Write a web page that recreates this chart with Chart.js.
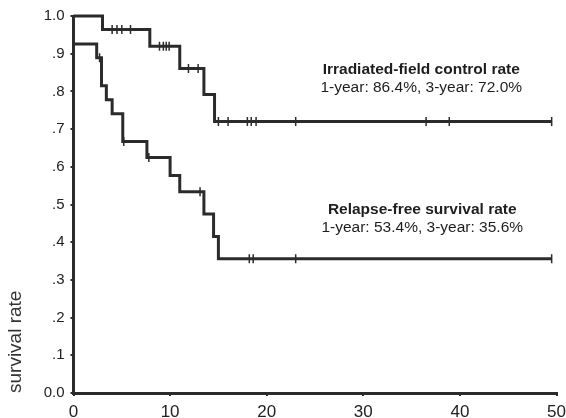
<!DOCTYPE html>
<html>
<head>
<meta charset="utf-8">
<script src="https://cdn.jsdelivr.net/npm/chart.js@4/dist/chart.umd.min.js"></script>
<style>
  html, body { margin: 0; padding: 0; background: #fff; }
  #wrap { width: 566px; height: 418px; }
</style>
</head>
<body>
<div id="wrap"><canvas id="myChart" width="566" height="418"></canvas></div>
<script>
// Irradiated-field control (months, rate)
const controlTimes = [0, 3.0, 7.9, 11.0, 13.5, 14.6, 49.5];
const controlRates = [1.0, 0.964, 0.920, 0.861, 0.792, 0.720, 0.720];
const controlCensored = [4.0, 4.5, 5.0, 5.9, 8.9, 9.3, 9.6, 9.9, 11.9, 12.9, 15.0, 16.0, 18.0, 18.4, 18.9, 23.0, 36.5, 38.9, 49.5];

// Relapse-free survival
const relapseTimes = [0, 2.4, 2.9, 3.4, 4.0, 5.1, 7.6, 10.0, 11.0, 13.5, 14.5, 15.0, 49.5];
const relapseRates = [0.926, 0.889, 0.815, 0.778, 0.741, 0.667, 0.625, 0.577, 0.534, 0.475, 0.415, 0.356, 0.356];
const relapseCensored = [2.7, 5.2, 7.8, 13.1, 18.2, 18.6, 23.0, 49.5];

const xTicks = [0, 10, 20, 30, 40, 50];
const yTicks = [0, 0.1, 0.2, 0.3, 0.4, 0.5, 0.6, 0.7, 0.8, 0.9, 1.0];

const notes = [
    {title: 'Irradiated-field control rate', sub: '1-year: 86.4%, 3-year: 72.0%', x: 36.0, y: 0.857},
    {title: 'Relapse-free survival rate', sub: '1-year: 53.4%, 3-year: 35.6%', x: 36.1, y: 0.485}
];

const ink = '#2b2b2b';

function toPoints(times, rates) {
    return times.map((t, i) => ({x: t, y: rates[i]}));
}

// value of the step curve at time t
function rateAt(times, rates, t) {
    let r = rates[0];
    times.forEach((tt, i) => { if (tt <= t) r = rates[i]; });
    return r;
}

function censorPoints(censored, times, rates) {
    return censored.map(t => ({x: t, y: rateAt(times, rates, t)}));
}

function curve(data) {
    return {
        data: data,
        stepped: 'before',
        borderColor: ink,
        borderWidth: 3,
        pointRadius: 0,
        fill: false,
        clip: 6
    };
}

function marks(data) {
    return {
        data: data,
        showLine: false,
        pointStyle: 'line',
        rotation: 90,
        pointRadius: 4.5,
        pointBorderWidth: 1.5,
        pointBorderColor: ink,
        clip: 8
    };
}

// draw the two text blocks
const notesPlugin = {
    id: 'notes',
    afterDatasetsDraw(chart) {
        const ctx = chart.ctx;
        const xs = chart.scales.x, ys = chart.scales.y;
        ctx.save();
        ctx.fillStyle = '#1e1e1e';
        ctx.textAlign = 'center';
        ctx.textBaseline = 'middle';
        notes.forEach(n => {
            const px = xs.getPixelForValue(n.x);
            const py = ys.getPixelForValue(n.y);
            ctx.font = 'bold 15.5px "Liberation Sans", Arial, sans-serif';
            ctx.fillText(n.title, px, py);
            ctx.font = '15.5px "Liberation Sans", Arial, sans-serif';
            ctx.fillText(n.sub, px, py + 18);
        });
        ctx.restore();
    }
};

new Chart(document.getElementById('myChart'), {
    type: 'line',
    data: {
        datasets: [
            curve(toPoints(controlTimes, controlRates)),
            marks(censorPoints(controlCensored, controlTimes, controlRates)),
            curve(toPoints(relapseTimes, relapseRates)),
            marks(censorPoints(relapseCensored, relapseTimes, relapseRates))
        ]
    },
    options: {
        responsive: false,
        animation: false,
        layout: {padding: {top: 16, right: 9.5, left: 0, bottom: 0}},
        plugins: {legend: {display: false}, tooltip: {enabled: false}},
        scales: {
            x: {
                type: 'linear',
                min: 0,
                max: 50,
                afterBuildTicks: s => { s.ticks = xTicks.map(v => ({value: v})); },
                afterFit: s => { s.height = 25; s.paddingRight = 0; s.paddingLeft = 0; },
                grid: {drawOnChartArea: false, tickLength: 3, color: ink, lineWidth: 2},
                border: {display: true, color: ink, width: 3},
                ticks: {
                    color: '#222',
                    padding: 6,
                    font: {family: '"Liberation Sans", Arial, sans-serif', size: 17}
                }
            },
            y: {
                type: 'linear',
                min: 0,
                max: 1,
                afterBuildTicks: s => { s.ticks = yTicks.map(v => ({value: v})); },
                afterFit: s => { s.width = 73.5; s.paddingTop = 0; s.paddingBottom = 0; },
                grid: {drawOnChartArea: false, tickLength: 3, color: ink, lineWidth: 2},
                border: {display: true, color: ink, width: 3},
                ticks: {
                    color: '#222',
                    padding: 6,
                    font: {family: '"Liberation Sans", Arial, sans-serif', size: 15},
                    callback: v => {
                        const k = Math.round(v * 10);
                        if (k === 10) return '1.0';
                        if (k === 0) return '0.0';
                        return '.' + k;
                    }
                },
                title: {
                    display: true,
                    text: 'survival rate',
                    align: 'start',
                    color: '#333',
                    padding: {top: 4, bottom: 0},
                    font: {family: '"Liberation Sans", Arial, sans-serif', size: 19}
                }
            }
        }
    },
    plugins: [notesPlugin]
});
</script>
</body>
</html>
